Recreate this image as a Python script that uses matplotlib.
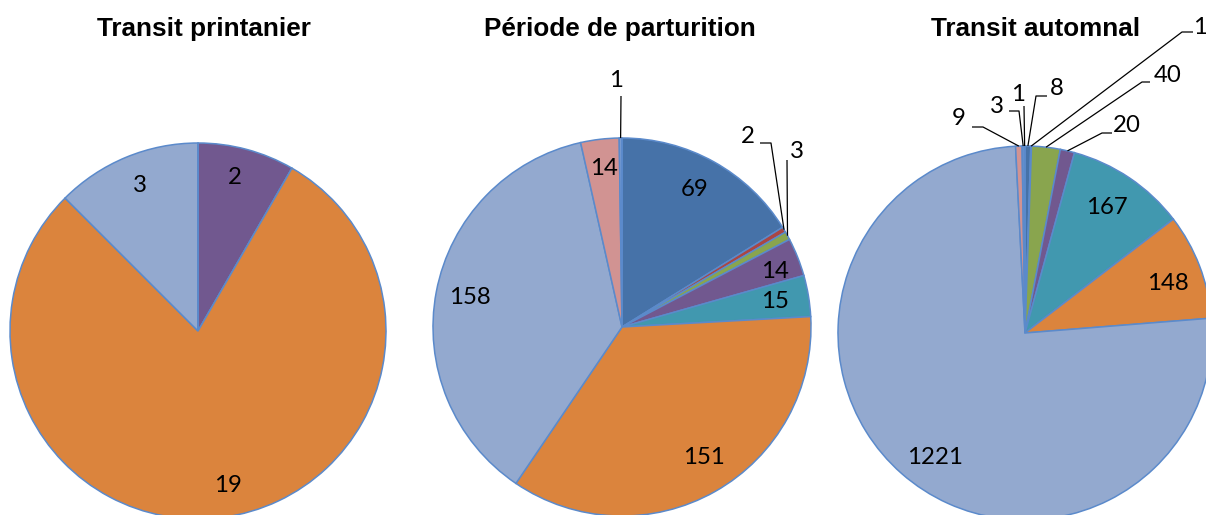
import matplotlib.pyplot as plt
import numpy as np

W, H = 1206, 515

# slice colours, same order in all three pies
colors = ['#4672A8', '#AA4643', '#89A54E', '#71588F', '#4198AF',
          '#DB843D', '#93A9CF', '#D19392', '#7A9CD0', '#4A78B8']

titles = ['Transit printanier', 'Période de parturition', 'Transit automnal']
spring = [0, 0, 0, 2, 0, 19, 3, 0, 0, 0]
calving = [69, 2, 3, 14, 15, 151, 158, 14, 1, 0]
autumn = [8, 1, 40, 20, 167, 148, 1221, 9, 3, 1]
series = [spring, calving, autumn]

# layout in pixels: pie centre, radius, title x
centers = [(198, 331), (622, 327), (1025, 333)]
radii = [188, 189, 187]
title_x = [204, 620, 1036]

# labels drawn inside the slices: index -> text position (px)
inside = [
    {3: (235, 178), 5: (228, 485), 6: (140, 185)},
    {0: (695, 189), 3: (775, 271), 4: (775, 302), 5: (704, 457),
     6: (470, 297), 7: (604, 169)},
    {4: (1107, 207), 5: (1168, 283), 6: (935, 458)},
]
# labels with leader lines: index -> (text pos, line start, elbow)
outside = [
    {},
    {8: ((616, 81), (621, 96), (621, 96)),
     1: ((748, 137), (760, 143), (771, 143)),
     2: ((797, 152), (787, 160), (787, 160))},
    {7: ((959, 118), (972, 127), (983, 127)),
     8: ((997, 106), (1009, 111), (1019, 111)),
     9: ((1018, 94), (1024, 106), (1024, 106)),
     0: ((1057, 88), (1047, 96), (1036, 96)),
     1: ((1200, 27), (1193, 32), (1182, 32)),
     2: ((1168, 75), (1150, 82), (1142, 82)),
     3: ((1127, 125), (1112, 133), (1102, 133))},
]

num_font = dict(family='Lato', fontsize=17.3, color='black')

fig = plt.figure(figsize=(W / 100, H / 100), dpi=100)

for i, values in enumerate(series):
    cx, cy = centers[i]
    r = radii[i]
    ax = fig.add_axes([(cx - r) / W, (H - cy - r) / H, 2 * r / W, 2 * r / H])
    wedges, _ = ax.pie(values, colors=colors, startangle=90, counterclock=False,
                       radius=1, wedgeprops=dict(edgecolor='#5B8ACB', linewidth=1.1))
    ax.set_xlim(-1, 1)
    ax.set_ylim(-1, 1)
    ax.set_aspect('equal')
    ax.axis('off')

    def to_data(p):
        return ((p[0] - cx) / r, (cy - p[1]) / r)

    for k, pos in inside[i].items():
        x, y = to_data(pos)
        ax.text(x, y, str(values[k]), ha='center', va='center', **num_font)

    for k, (tpos, start, elbow) in outside[i].items():
        w = wedges[k]
        mid = np.deg2rad((w.theta1 + w.theta2) / 2)
        end = (np.cos(mid), np.sin(mid))
        s = to_data(start)
        e = to_data(elbow)
        ax.plot([s[0], e[0], end[0]], [s[1], e[1], end[1]], color='black',
                lw=0.9, clip_on=False, solid_capstyle='butt')
        x, y = to_data(tpos)
        ax.text(x, y, str(values[k]), ha='center', va='center', clip_on=False, **num_font)

    fig.text(title_x[i] / W, 1 - 29 / H, titles[i], ha='center', va='center',
             family='Liberation Sans', fontweight='bold', fontsize=18.8)

fig.savefig('out.png', dpi=100)
